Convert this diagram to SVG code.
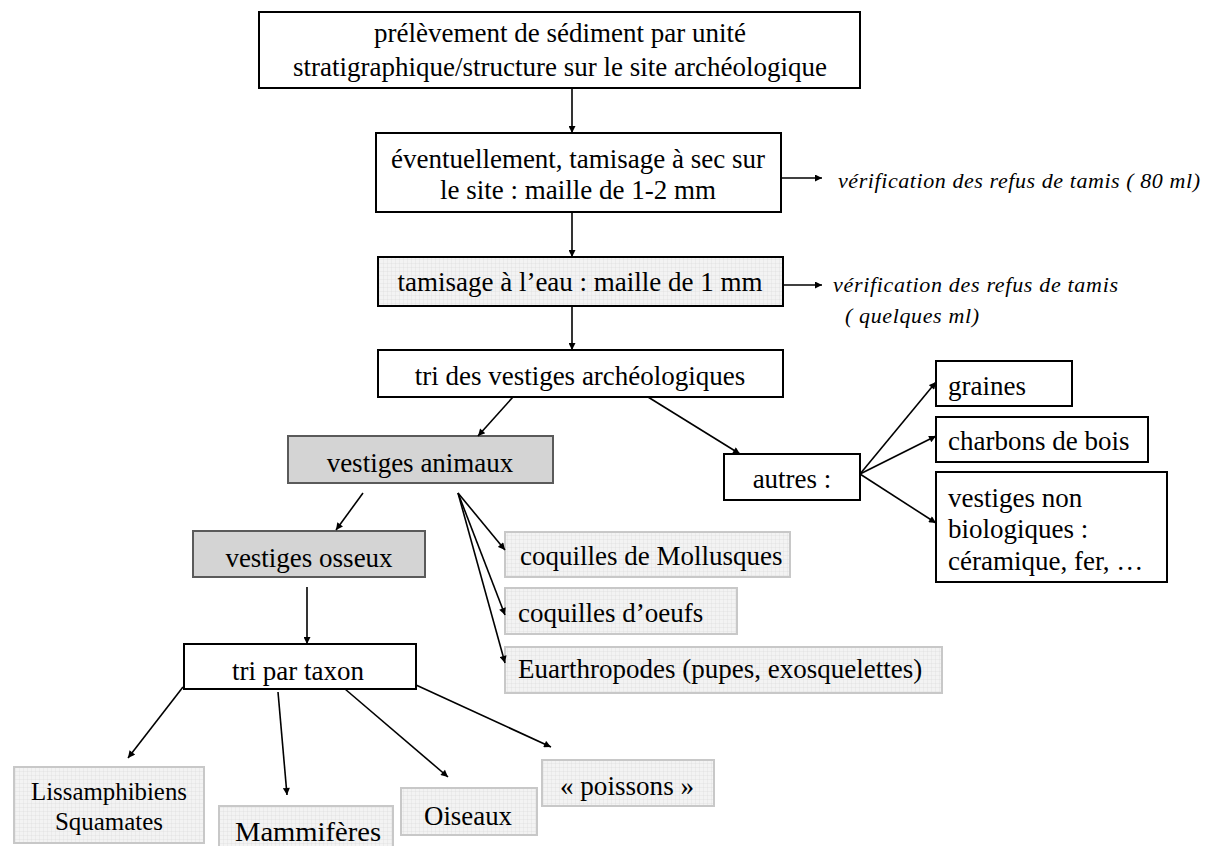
<svg xmlns="http://www.w3.org/2000/svg" width="1209" height="846" viewBox="0 0 1209 846">
<defs>
<pattern id="grid" width="4" height="4" patternUnits="userSpaceOnUse">
<rect width="4" height="4" fill="#f3f3f3"/>
<path d="M4 0V4M0 4H4" stroke="#d6d6d6" stroke-width="0.6"/>
</pattern>
<marker id="ah" viewBox="0 0 10 10" refX="10" refY="5" markerWidth="9" markerHeight="7" markerUnits="userSpaceOnUse" orient="auto">
<path d="M0 0L10 5L0 10z" fill="#000"/>
</marker>
</defs>
<style>
.b{fill:#fff;stroke:#000;stroke-width:2}
.g{fill:#d4d4d4;stroke:#5a5a5a;stroke-width:2}
.h{fill:url(#grid);stroke:#000;stroke-width:2}
.l{fill:url(#grid);stroke:#c8c8c8;stroke-width:2}
text{font-family:"Liberation Serif","Times New Roman",serif;font-size:27px;fill:#000}
.c{text-anchor:middle}
.i{font-style:italic;font-size:22px}
.s{font-size:26px}
.e line{stroke:#000;stroke-width:1.6;marker-end:url(#ah)}
</style>
<g id="n1"><rect class="b" x="259" y="12" width="601" height="76"/>
<text class="c" x="560" y="42">prélèvement de sédiment par unité</text>
<text class="c" x="560" y="76">stratigraphique/structure sur le site archéologique</text></g>
<g id="n2"><rect class="b" x="376" y="133" width="405" height="79"/>
<text class="c" x="578" y="168">éventuellement, tamisage à sec sur</text>
<text class="c" x="578" y="199">le site : maille de 1-2 mm</text></g>
<g id="n2note"><text class="i" x="838" y="188" textLength="362" lengthAdjust="spacing">vérification des refus de tamis ( 80 ml)</text></g>
<g id="n3"><rect class="h" x="378" y="257" width="405" height="49"/>
<text class="c" x="580" y="291">tamisage à l’eau : maille de 1 mm</text></g>
<g id="n3note"><text class="i" x="833" y="292" textLength="285" lengthAdjust="spacing">vérification des refus de tamis</text>
<text class="i" x="845" y="323" textLength="134" lengthAdjust="spacing">( quelques ml)</text></g>
<g id="n4"><rect class="b" x="378" y="350" width="405" height="47"/>
<text class="c" x="580" y="385">tri des vestiges archéologiques</text></g>
<g id="n5"><rect class="g" x="288" y="436" width="265" height="47"/>
<text class="c" x="420" y="472">vestiges animaux</text></g>
<g id="n6"><rect class="b" x="724" y="454" width="136" height="46"/>
<text class="c" x="792" y="488">autres :</text></g>
<g id="n7"><rect class="b" x="936" y="361" width="136" height="45"/>
<text x="948" y="395">graines</text></g>
<g id="n8"><rect class="b" x="936" y="417" width="212" height="45"/>
<text x="948" y="450">charbons de bois</text></g>
<g id="n9"><rect class="b" x="936" y="472" width="231" height="110"/>
<text x="948" y="507">vestiges non</text>
<text x="948" y="538">biologiques :</text>
<text x="948" y="570">céramique, fer, …</text></g>
<g id="n10"><rect class="g" x="193" y="531" width="232" height="46"/>
<text class="c" x="309" y="567">vestiges osseux</text></g>
<g id="n11"><rect class="l" x="505" y="532" width="285" height="45"/>
<text x="520" y="565">coquilles de Mollusques</text></g>
<g id="n12"><rect class="l" x="505" y="588" width="232" height="46"/>
<text x="518" y="622">coquilles d’oeufs</text></g>
<g id="n13"><rect class="l" x="505" y="647" width="437" height="46"/>
<text x="518" y="678">Euarthropodes (pupes, exosquelettes)</text></g>
<g id="n14"><rect class="b" x="184" y="644" width="232" height="45"/>
<text class="c" x="298" y="680" textLength="132" lengthAdjust="spacingAndGlyphs">tri par taxon</text></g>
<g id="n15"><rect class="l" x="14" y="767" width="190" height="76"/>
<text class="c s" x="109" y="800" textLength="156" lengthAdjust="spacingAndGlyphs">Lissamphibiens</text>
<text class="c s" x="109" y="830" textLength="108" lengthAdjust="spacingAndGlyphs">Squamates</text></g>
<g id="n16"><rect class="l" x="219" y="806" width="174" height="46"/>
<text x="235" y="841" textLength="146" lengthAdjust="spacingAndGlyphs">Mammifères</text></g>
<g id="n17"><rect class="l" x="401" y="788" width="136" height="47"/>
<text class="c" x="468" y="825" textLength="88" lengthAdjust="spacingAndGlyphs">Oiseaux</text></g>
<g id="n18"><rect class="l" x="542" y="760" width="172" height="46"/>
<text class="c" x="627" y="795" textLength="134" lengthAdjust="spacingAndGlyphs">« poissons »</text></g>
<g id="edges" class="e">
<line x1="572" y1="88" x2="572" y2="133"/>
<line x1="572" y1="212" x2="572" y2="257"/>
<line x1="572" y1="306" x2="572" y2="350"/>
<line x1="781" y1="178" x2="822" y2="178"/>
<line x1="783" y1="285" x2="822" y2="285"/>
<line x1="513" y1="397" x2="478" y2="436"/>
<line x1="648" y1="397" x2="740" y2="454"/>
<line x1="860" y1="474" x2="936" y2="382"/>
<line x1="860" y1="474" x2="936" y2="436"/>
<line x1="860" y1="474" x2="936" y2="523"/>
<line x1="363" y1="493" x2="336" y2="530"/>
<line x1="458" y1="493" x2="505" y2="550"/>
<line x1="458" y1="493" x2="505" y2="615"/>
<line x1="458" y1="493" x2="505" y2="663"/>
<line x1="307" y1="587" x2="307" y2="644"/>
<line x1="183" y1="687" x2="128" y2="758"/>
<line x1="278" y1="692" x2="287" y2="795"/>
<line x1="345" y1="689" x2="448" y2="777"/>
<line x1="416" y1="685" x2="551" y2="747"/>
</g>
</svg>
